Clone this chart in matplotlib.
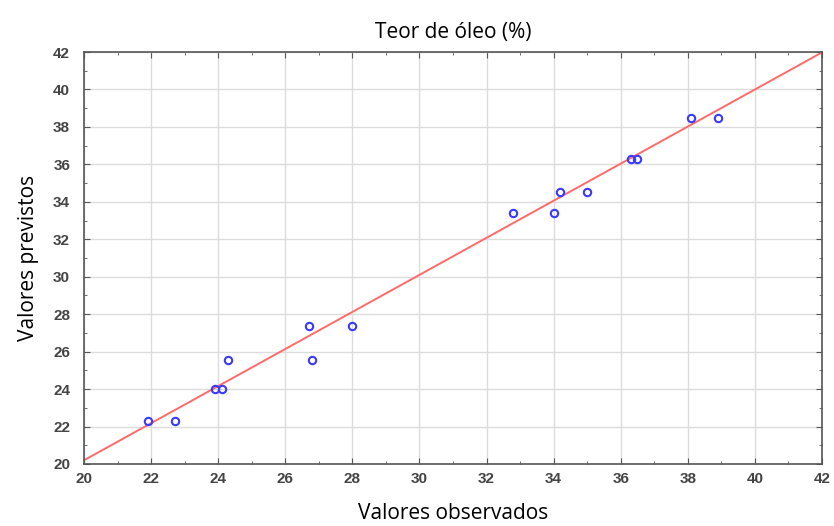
import matplotlib
matplotlib.use("Agg")
import matplotlib.pyplot as plt
import numpy as np
from matplotlib.ticker import MultipleLocator

observed = [21.9, 22.7, 23.9, 24.1, 24.3, 26.7, 26.8, 28.0, 32.8, 34.0, 34.2, 35.0, 36.3, 36.5, 38.1, 38.9]
predicted = [22.3, 22.3, 24.0, 24.0, 25.55, 27.35, 25.55, 27.35, 33.4, 33.4, 34.55, 34.55, 36.3, 36.3, 38.45, 38.45]
fit_slope = 0.99
fit_intercept = 0.4
x_ticks = list(range(20, 43, 2))
y_ticks = list(range(20, 43, 2))

fig = plt.figure(figsize=(8.34, 5.26), dpi=100)
ax = fig.add_axes([0.1007, 0.1179, 0.8849, 0.7832])

xs = np.array([20, 42])
ax.plot(xs, fit_slope * xs + fit_intercept, color="#ff6a6a", lw=1.4, zorder=2)
ax.plot(observed, predicted, linestyle="none", marker="o", markersize=5.3,
        markerfacecolor="none", markeredgecolor="#3a3aff", markeredgewidth=1.5, zorder=3)

ax.set_xlim(20, 42)
ax.set_ylim(20, 42)
ax.set_xticks(x_ticks)
ax.set_yticks(y_ticks)
ax.xaxis.set_minor_locator(MultipleLocator(1))
ax.yaxis.set_minor_locator(MultipleLocator(1))
ax.grid(True, which="major", color="#dcdcdc", lw=1.0, zorder=0)
ax.set_axisbelow(True)
ax.tick_params(which="both", direction="in", top=True, right=True, colors="#555555",
               labelcolor="#444444", labelsize=11)
ax.tick_params(which="major", length=4)
ax.tick_params(which="minor", length=2.5)
for lab in ax.get_xticklabels() + ax.get_yticklabels():
    lab.set_family("Liberation Sans")
    lab.set_fontweight("bold")
for sp in ax.spines.values():
    sp.set_color("#555555")
    sp.set_linewidth(1.2)
ax.tick_params(axis="x", pad=6)
ax.tick_params(axis="y", pad=10)

ax.set_title("Teor de óleo (%)", fontsize=15, family="Open Sans", pad=10)
ax.set_xlabel("Valores observados", fontsize=15, family="Open Sans", labelpad=12)
ax.set_ylabel("Valores previstos", fontsize=15, family="Open Sans", labelpad=10)

fig.savefig("out.png", dpi=100, facecolor="white")
